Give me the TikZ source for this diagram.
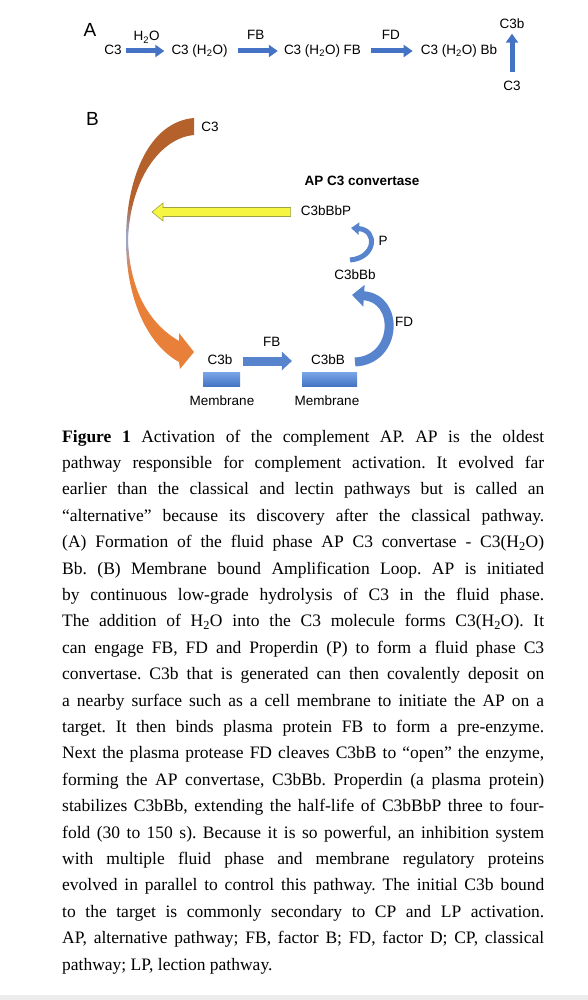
\documentclass[tikz,border=0pt]{standalone}
\usepackage{fontspec}
\setmainfont{Liberation Serif}
\setsansfont{Liberation Sans}
\usepackage{xcolor}
\usetikzlibrary{calc,arrows.meta}

\definecolor{arrowblue}{RGB}{68,114,196}
\definecolor{loopblue}{RGB}{88,132,205}
\definecolor{memtop}{RGB}{122,166,232}
\definecolor{membot}{RGB}{70,116,196}
\definecolor{loopbr}{RGB}{180,97,44}
\definecolor{loopor}{RGB}{232,128,58}
\definecolor{loopmid}{RGB}{155,165,200}
\definecolor{yfill}{RGB}{246,246,66}
\definecolor{yline}{RGB}{160,160,70}
\pgfdeclareverticalshading{loopshade}{100bp}{color(0bp)=(loopor); color(44bp)=(loopor); color(50bp)=(loopmid); color(52bp)=(loopmid); color(58bp)=(loopbr); color(100bp)=(loopbr)}

\begin{document}
\frenchspacing
\begin{tikzpicture}[x=1pt,y=-1pt,
  lbl/.style={font=\sffamily\fontsize{13.5}{16}\selectfont, inner sep=2pt, text height=10pt, text depth=3pt},
  panel/.style={font=\sffamily\fontsize{19}{22}\selectfont, inner sep=0pt},
  fwd/.style={draw=arrowblue, line width=5pt, -{Triangle[length=9pt,width=12pt]}},
  loop/.style={draw=loopblue, -{Triangle[length=10pt,width=18pt]}},
  membrane/.style={top color=memtop, bottom color=membot, draw=none, inner sep=0pt}]
\useasboundingbox (0,0) rectangle (588,1000);

% A: fluid phase
\node[panel] (lblA) at (90,30) {A};
\node[lbl] (a1) at (113,51) {C3};
\node[lbl] (a2) at (199.5,51) {C3 (H\textsubscript{2}O)};
\node[lbl] (a3) at (322.5,51) {C3 (H\textsubscript{2}O) FB};
\node[lbl] (a4) at (459,51) {C3 (H\textsubscript{2}O) Bb};
\node[lbl] (a5) at (512,87) {C3};
\node[lbl] (a6) at (512,25) {C3b};
\draw[fwd, shorten <=2pt, shorten >=5pt] (a1) -- node[lbl, above=2.5pt] {H\textsubscript{2}O} (a2);
\draw[fwd, shorten <=8pt, shorten >=4pt] (a2) -- node[lbl, above=4pt] {FB} (a3);
\draw[fwd, shorten <=8pt, shorten >=6pt] (a3) -- node[lbl, above=4pt] {FD} (a4);
\draw[fwd, shorten <=6pt] (a5) -- (a6);

% B: amplification loop
\node[panel] (lblB) at (92.5,118.5) {B};
\node[lbl] (c3src) at (210,128) {C3};
\node[lbl, font=\sffamily\bfseries\fontsize{13.5}{16}\selectfont] (conv) at (362,182) {AP C3 convertase};
\node[lbl] (c3bbbp) at (326,212) {C3bBbP};
\node[lbl] (c3bbb) at (355,276) {C3bBb};
\node[lbl] (c3bb) at (328,361) {C3bB};
\node[lbl] (c3bm) at (220,361) {C3b};
\node[membrane, minimum width=37pt, minimum height=14pt] (barA) at (221.5,379) {};
\node[membrane, minimum width=55pt, minimum height=14pt] (barB) at (329.5,379) {};
\node[lbl] (memA) at (222,402) {Membrane};
\node[lbl] (memB) at (327,402) {Membrane};
\node[lbl] (labP) at (383,242) {P};
\node[lbl] (labFD) at (404,323) {FD};

\shade[shading=loopshade] (194,118) .. controls (148,122) and (126,180) .. (126,240)
  .. controls (126,300) and (148,345) .. (179,362) -- (180,369) -- (194,352) -- (179,333) -- (179,341)
  .. controls (152,325) and (130,295) .. (128,240)
  .. controls (130,180) and (160,138) .. (194,135) -- cycle;

\coordinate (ytail) at ($(c3bbbp.west)+(-8,0)$);
\coordinate (ytip) at (152,212);
\filldraw[fill=yfill, draw=yline, line width=0.6pt] ($(ytail)+(0,-4.5)$) -- ($(ytip)+(11,-4.5)$) -- ($(ytip)+(11,-9)$)
  -- (ytip) -- ($(ytip)+(11,9)$) -- ($(ytip)+(11,4.5)$) -- ($(ytail)+(0,4.5)$) -- cycle;

\draw[loop, line width=9pt, shorten <=8pt, shorten >=17pt] (c3bm) -- node[lbl, above=5.5pt] {FB} (c3bb);
\coordinate (fdtail) at (355,362);
\coordinate (fdtip) at (352,295);
\draw[loop, line width=9pt, -{Triangle[length=12pt,width=21pt]}] (fdtail) .. controls (398,360) and (400,298) .. (fdtip);
\coordinate (ptail) at (350,260);
\coordinate (ptip) at (351,228);
\draw[loop, line width=5pt, -{Triangle[length=8pt,width=12pt]}] (ptail) .. controls (376,258) and (378,230) .. (ptip);

% caption
\node[anchor=base west, inner sep=0pt, text width=482pt, align=justify, font=\fontsize{17.5}{26.4}\selectfont] (caption) at (62,442) {%
\textbf{Figure 1} Activation of the complement AP. AP is the oldest\linebreak
pathway responsible for complement activation. It evolved far\linebreak
earlier than the classical and lectin pathways but is called an\linebreak
“alternative” because its discovery after the classical pathway.\linebreak
(A) Formation of the fluid phase AP C3 convertase - C3(H\textsubscript{2}O)\linebreak
Bb. (B) Membrane bound Amplification Loop. AP is initiated\linebreak
by continuous low-grade hydrolysis of C3 in the fluid phase.\linebreak
The addition of H\textsubscript{2}O into the C3 molecule forms C3(H\textsubscript{2}O). It\linebreak
can engage FB, FD and Properdin (P) to form a fluid phase C3\linebreak
convertase. C3b that is generated can then covalently deposit on\linebreak
a nearby surface such as a cell membrane to initiate the AP on a\linebreak
target. It then binds plasma protein FB to form a pre-enzyme.\linebreak
Next the plasma protease FD cleaves C3bB to “open” the enzyme,\linebreak
forming the AP convertase, C3bBb. Properdin (a plasma protein)\linebreak
stabilizes C3bBb, extending the half-life of C3bBbP three to four-\linebreak
fold (30 to 150 s). Because it is so powerful, an inhibition system\linebreak
with multiple fluid phase and membrane regulatory proteins\linebreak
evolved in parallel to control this pathway. The initial C3b bound\linebreak
to the target is commonly secondary to CP and LP activation.\linebreak
AP, alternative pathway; FB, factor B; FD, factor D; CP, classical\linebreak
pathway; LP, lection pathway.};

\fill[gray!15] (0,995) rectangle (588,1000);
\end{tikzpicture}
\end{document}
